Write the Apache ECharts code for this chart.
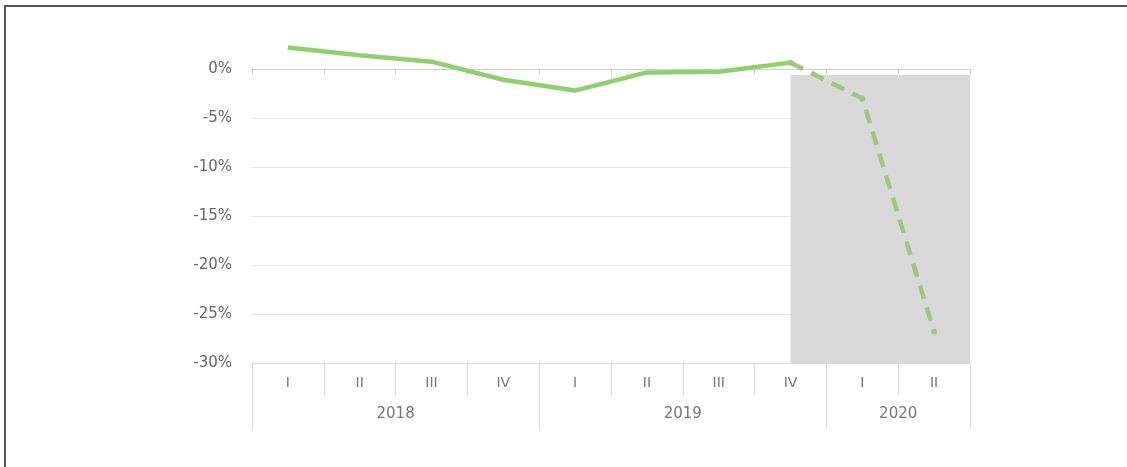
<!DOCTYPE html>
<html>
<head>
<meta charset="utf-8">
<script src="https://cdn.jsdelivr.net/npm/echarts@6/dist/echarts.min.js"></script>
<style>
html,body{margin:0;padding:0;background:#fff;}
#chart{width:1127px;height:467px;}
</style>
</head>
<body>
<div id="chart"></div>
<script>
// ---- data ----
const quarters = ['I','II','III','IV','I','II','III','IV','I','II'];
const years = ['2018','2019','2020'];
const yearCenters = [2, 6, 9];          // positions on the 0..10 quarter scale
const yearBounds = [0, 4, 8, 10];
const actual =   [2.2, 1.4, 0.75, -1.1, -2.2, -0.35, -0.27, 0.65, null, null];
const forecast = [null, null, null, null, null, null, null, 0.65, -3.0, -26.8];
const yTicks = { min: -30, max: 0, step: 5 };
const shadeFrom = [7.5, -0.6];   // [quarter position, value %]
const shadeTo = [10, -30];

const chart = echarts.init(document.getElementById('chart'));
const font = 'DejaVu Sans';
chart.setOption({
  animation: false,
  backgroundColor: '#fff',
  grid: { left: 252, right: 157, top: 69, bottom: 104 },
  graphic: [{
    type: 'polyline',
    shape: { points: [[5, 467], [5, 6], [1127, 6]] },
    style: { stroke: '#555', lineWidth: 2, fill: null }
  }],
  xAxis: [
    { // axis crossing at zero with ticks
      type: 'category', data: quarters, boundaryGap: true,
      axisLine: { onZero: true, lineStyle: { color: '#d0d0d0', width: 1 } },
      axisTick: { show: true, length: 5, lineStyle: { color: '#c8c8c8' } },
      axisLabel: { show: false }
    },
    { // quarter labels at bottom
      type: 'category', data: quarters, boundaryGap: true, position: 'bottom',
      axisLine: { onZero: false, lineStyle: { color: '#d9d9d9', width: 1 } },
      axisTick: { show: true, length: 32, lineStyle: { color: '#d9d9d9' } },
      axisLabel: { margin: 13, color: '#777', fontFamily: font, fontSize: 14 }
    },
    { // year labels
      type: 'value', min: 0, max: 10, position: 'bottom',
      axisLine: { onZero: false, show: false },
      splitLine: { show: false },
      axisTick: { show: true, length: 65, customValues: yearBounds, lineStyle: { color: '#d9d9d9' } },
      axisLabel: {
        margin: 44, color: '#777', fontFamily: font, fontSize: 15,
        customValues: yearCenters,
        formatter: v => years[yearCenters.indexOf(v)] || ''
      }
    }
  ],
  yAxis: {
    type: 'value', min: yTicks.min, max: yTicks.max, interval: yTicks.step,
    axisLine: { show: false }, axisTick: { show: false },
    axisLabel: { margin: 20, color: '#666', fontFamily: font, fontSize: 15, formatter: v => v + '%' },
    splitLine: { lineStyle: { color: '#e4e4e4', width: 1 } }
  },
  series: [
    {
      type: 'line', xAxisIndex: 2, data: [], silent: true,
      markArea: {
        silent: true,
        itemStyle: { color: '#d9d9d9' },
        data: [[{ coord: shadeFrom }, { coord: shadeTo }]]
      },
      z: 1
    },
    {
      type: 'line', xAxisIndex: 0, data: actual, clip: false,
      showSymbol: false, symbol: 'none',
      lineStyle: { color: '#8fd06a', width: 4.5 }, z: 3
    },
    {
      type: 'line', xAxisIndex: 0, data: forecast, clip: false,
      symbol: 'circle', symbolSize: 6, showSymbol: true,
      itemStyle: { color: '#9cc97c' },
      lineStyle: { color: '#9cc97c', width: 4.5, type: [14, 9] }, z: 3
    }
  ]
});
</script>
</body>
</html>
